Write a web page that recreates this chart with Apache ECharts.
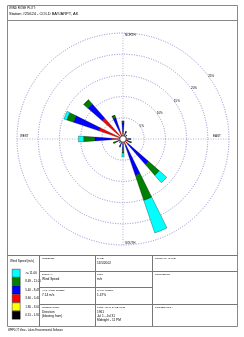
<!DOCTYPE html>
<html><head><meta charset="utf-8">
<script src="https://cdn.jsdelivr.net/npm/echarts@6.0.0/dist/echarts.min.js"></script>
<style>html,body{margin:0;padding:0;background:#fff}#c{width:244px;height:337px}</style>
</head><body><div id="c"></div>
<script>
const directions = ['N','NNE','NE','ENE','E','ESE','SE','SSE','S','SSW','SW','WSW','W','WNW','NW','NNW'];
const speedClasses = ['0.51 - 1.80','1.80 - 3.60','3.60 - 5.40','5.40 - 8.49','8.49 - 11.06','>= 11.06'];
const speedColors = ['#000000','#ffff00','#ff0000','#0000ff','#008000','#00ffff'];
const black  = [0.3,0.2,0.2,0.1,0.2,0.2,0.3,0.3,0.2,0.2,0.2,0.2,0.3,0.3,0.3,0.2];
const yellow = [0.4,0.3,0.3,0.2,0.3,0.3,0.4,0.4,0.3,0.3,0.2,0.3,0.5,0.6,0.6,0.4];
const red    = [0.9,0.6,0.4,0.3,0.5,0.5,1.0,1.1,0.6,0.6,0.4,0.6,1.9,5.1,5.6,1.6];
const blue   = [2.3,0.7,0.3,0.2,0.6,0.8,6.3,7.3,1.4,0.7,0.3,0.9,4.0,6.3,4.5,3.1];
const green  = [0.3,0.1,0,0,0.2,0.3,3.4,6.2,0.8,0.2,0,0.4,2.6,1.7,1.3,0.6];
const cyan   = [0,0,0,0,0,0,2.3,8.1,0.9,0,0,0,1.2,0.7,0,0];
const radiusTicks = [0,5,10,15,20,25];
const compass = ['NORTH','EAST','SOUTH','WEST'];

const seriesValues = [black, yellow, red, blue, green, cyan];
const chart = echarts.init(document.getElementById('c'), null, {renderer:'canvas'});
const FF = 'Liberation Sans, Arial, sans-serif';
const CX = 123, CY = 139, R = 106;

function txt(text, x, y, size, extra){
  return Object.assign({type:'text', x:x, y:y, silent:true, z:50,
    style:{text:text, fontSize:size, fontFamily:FF, fill:'#000', textVerticalAlign:'top'}}, extra||{});
}
function ln(x1,y1,x2,y2,c,w){
  return {type:'line', silent:true, z:40, shape:{x1:x1,y1:y1,x2:x2,y2:y2}, style:{stroke:c||'#777', lineWidth:w||1}};
}

const series = seriesValues.map((vals,i)=>({
  name: speedClasses[i], type:'bar', coordinateSystem:'polar', polarIndex:0, stack:'w',
  data: vals, barWidth:'34%', itemStyle:{color:speedColors[i], borderColor:'#000', borderWidth:0.3},
  silent:true, z:5
}));
series.push({
  type:'pie', center:[CX,CY], radius:[0,3.2], silent:true, z:20, label:{show:false}, labelLine:{show:false},
  itemStyle:{color:'#fff', borderColor:'#000', borderWidth:0.6}, data:[{value:1, name:'calm'}], legendHoverLink:false
});

const graphic = [
  {type:'rect', silent:true, z:40, shape:{x:7.5,y:5.5,width:230,height:321}, style:{fill:'none', stroke:'#888', lineWidth:1}},
  ln(7.5,20.5,237.5,20.5,'#888'),
  txt('WIND ROSE PLOT:', 9, 7, 3),
  txt('Station #25624 - COLD BAY/ARPT, AK', 9, 12, 4),
  ln(7.5,255.5,237.5,255.5,'#777'),
  ln(39.5,255.5,39.5,326.5,'#777'),
  ln(95.5,255.5,95.5,326.5,'#777'),
  ln(152.5,255.5,152.5,326.5,'#777'),
  ln(39.5,271.5,237.5,271.5,'#777'),
  ln(39.5,287.5,152.5,287.5,'#777'),
  ln(39.5,304.5,237.5,304.5,'#777'),
  txt('Wind Speed (m/s)', 10, 260, 3),
  txt('MODELER:', 42, 257, 2.5),
  txt('DATE:', 97, 257, 2.5),
  txt('11/5/2002', 97, 262, 3.2),
  txt('COMPANY NAME:', 155, 257, 2.5),
  txt('DISPLAY:', 42, 273, 2.5),
  txt('Wind Speed', 42, 278, 3.2),
  txt('UNIT:', 97, 273, 2.5),
  txt('m/s', 97, 278, 3.2),
  txt('COMMENTS:', 155, 273, 2.5),
  txt('AVG. WIND SPEED:', 42, 289, 2.5),
  txt('7.14 m/s', 42, 294, 3.2),
  txt('CALM WINDS:', 97, 289, 2.5),
  txt('1.47%', 97, 294, 3.2),
  txt('ORIENTATION:', 42, 306, 2.5),
  txt('Direction', 42, 311, 3.2),
  txt('(blowing from)', 42, 315, 3.2),
  txt('PLOT YEAR-DATE-TIME', 97, 306, 2.5),
  txt('1961', 97, 311, 3.2),
  txt('Jul 1 - Jul 31', 97, 315, 3.2),
  txt('Midnight - 11 PM', 97, 319, 3.2),
  txt('PROJECT NO.:', 155, 306, 2.5),
  txt('WRPLOT View - Lakes Environmental Software', 8, 329, 2.6),
  txt(compass[0], CX+2, CY-R+1, 3),
  txt(compass[1], CX+R-16, CY-4, 3),
  txt(compass[2], CX+2, CY+R-3.5, 3),
  txt(compass[3], CX-R+3, CY-4, 3)
];

chart.setOption({
  animation:false,
  backgroundColor:'#fff',
  legend:{
    orient:'vertical', left:12, top:269, height:60, width:28, padding:0,
    itemWidth:8, itemHeight:8, itemGap:0,
    icon:'rect', selectedMode:false,
    data: speedClasses.slice().reverse(),
    itemStyle:{borderColor:'#000', borderWidth:0.4},
    textStyle:{fontSize:3, lineHeight:4, fontFamily:FF, color:'#000', padding:0}
  },
  polar:[
    {center:[CX,CY], radius:R},
    {center:[CX,CY], radius:R},
    {center:[CX,CY], radius:R}
  ],
  angleAxis:[
    {polarIndex:0, type:'category', data:directions, startAngle:101.25, clockwise:true,
     axisLine:{show:false}, axisTick:{show:false}, axisLabel:{show:false}, splitLine:{show:false}},
    {polarIndex:1, type:'value', min:0, max:360, interval:90, startAngle:90,
     axisLine:{show:false}, axisTick:{show:false}, axisLabel:{show:false},
     splitLine:{show:true, lineStyle:{color:'#b4b4d8', type:[1,1.5], width:1}}},
    {polarIndex:2, type:'value', min:0, max:360, startAngle:36,
     axisLine:{show:false}, axisTick:{show:false}, axisLabel:{show:false}, splitLine:{show:false}}
  ],
  radiusAxis:[
    {polarIndex:0, type:'value', min:0, max:25, interval:5,
     axisLine:{show:false}, axisTick:{show:false}, axisLabel:{show:false},
     splitLine:{show:true, lineStyle:{color:'#8c8cd0', type:[1,1.5], width:1}}},
    {polarIndex:1, type:'value', min:0, max:25, show:false},
    {polarIndex:2, type:'value', min:0, max:25, interval:5,
     axisLine:{show:false}, axisTick:{show:false}, splitLine:{show:false},
     axisLabel:{show:true, fontSize:3, fontFamily:FF, color:'#000', margin:1, align:'left',
       formatter:function(v){return v? v+'%':'';}}}
  ],
  series: series,
  graphic: graphic
});
</script></body></html>
